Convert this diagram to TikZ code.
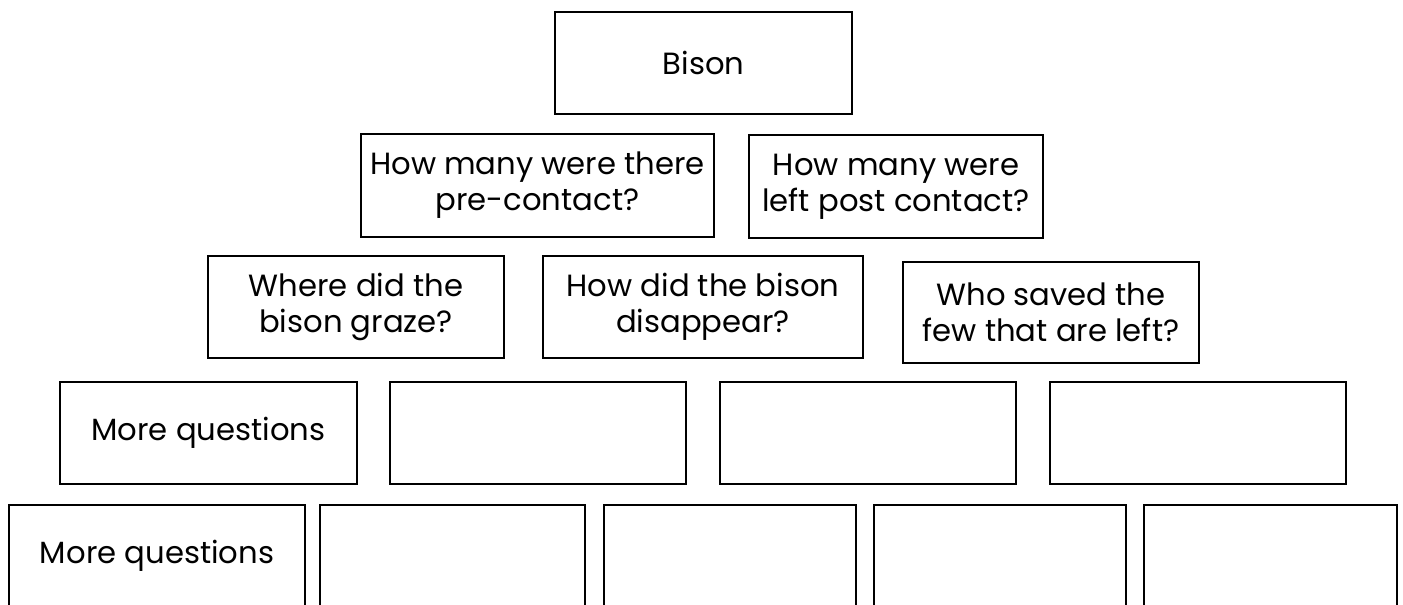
\documentclass[tikz,border=0pt]{standalone}
\usepackage{fontspec}
\setmainfont{Poppins}
\begin{document}
\begin{tikzpicture}[x=0.75pt,y=-0.75pt,
  box/.style 2 args={draw=black,line width=2pt,fill=white,rectangle,inner sep=0pt,
    minimum width=#1*0.75pt,minimum height=#2*0.75pt,align=center,
    font=\fontsize{23}{27}\selectfont,text=black}]
\clip (0,0) rectangle (1403,605);
\fill[white] (0,0) rectangle (1403,605);
\node[box={297}{102}] (bison) at (703.5,63) {Bison};
\node[box={353}{103}] (q1) at (537.5,185.5) {How many were there\\pre-contact?};
\node[box={294}{103}] (q2) at (896,186.5) {How many were\\left post contact?};
\node[box={296}{102}] (q3) at (356,307) {Where did the\\bison graze?};
\node[box={320}{102}] (q4) at (703,307) {How did the bison\\disappear?};
\node[box={296}{101}] (q5) at (1051,312.5) {Who saved the\\few that are left?};
\node[box={297}{102}] (r1) at (208.5,433) {More questions};
\node[box={296}{102}] (r2) at (538,433) {};
\node[box={296}{102}] (r3) at (868,433) {};
\node[box={296}{102}] (r4) at (1198,433) {};
\node[box={296}{102}] (s1) at (157,556) {More questions};
\node[box={265}{102}] (s2) at (452.5,556) {};
\node[box={252}{102}] (s3) at (730,556) {};
\node[box={252}{102}] (s4) at (1000,556) {};
\node[box={253}{102}] (s5) at (1270.5,556) {};
\end{tikzpicture}
\end{document}
